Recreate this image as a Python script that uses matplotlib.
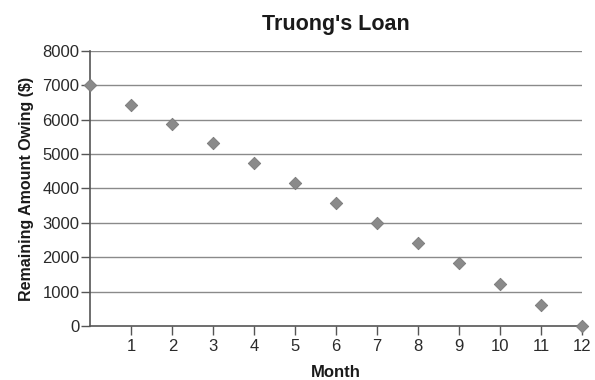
import matplotlib
matplotlib.use("Agg")
import matplotlib.pyplot as plt

plt.rcParams['font.family'] = ['Liberation Sans', 'DejaVu Sans']

months = [0, 1, 2, 3, 4, 5, 6, 7, 8, 9, 10, 11, 12]
owing = [7000, 6440, 5870, 5310, 4740, 4160, 3570, 3000, 2410, 1820, 1220, 610, 0]
xticks = [1, 2, 3, 4, 5, 6, 7, 8, 9, 10, 11, 12]
yticks = [0, 1000, 2000, 3000, 4000, 5000, 6000, 7000, 8000]

fig = plt.figure(figsize=(5.95, 3.8), dpi=100)
ax = fig.add_axes([0.152, 0.142, 0.826, 0.724])

for y in yticks[1:]:
    ax.axhline(y, color='#8a8a8a', lw=1.0, zorder=1)

ax.scatter(months, owing, marker='D', s=40, color='#8a8a8a', edgecolors='#7a7a7a',
           linewidths=0.6, zorder=3, clip_on=False)

ax.set_xlim(0, 12)
ax.set_ylim(0, 8000)
ax.set_xticks(xticks)
ax.set_yticks(yticks)
ax.tick_params(axis='both', direction='out', length=6.5, width=1, color='#555555',
               labelsize=12, labelcolor='#2a2a2a', pad=1.5)
ax.tick_params(axis='x', pad=3)
for s in ['top', 'right']:
    ax.spines[s].set_visible(False)
for s in ['left', 'bottom']:
    ax.spines[s].set_color('#555555')
    ax.spines[s].set_linewidth(1.2)

ax.set_title("Truong's Loan", fontsize=15.5, fontweight='bold', color='#1a1a1a', pad=15)
ax.set_xlabel('Month', fontsize=12, fontweight='bold', color='#1a1a1a', labelpad=8)
ax.set_ylabel('Remaining Amount Owing ($)', fontsize=11.5, fontweight='bold', color='#1a1a1a', labelpad=6)

fig.savefig('out.png', dpi=100)
